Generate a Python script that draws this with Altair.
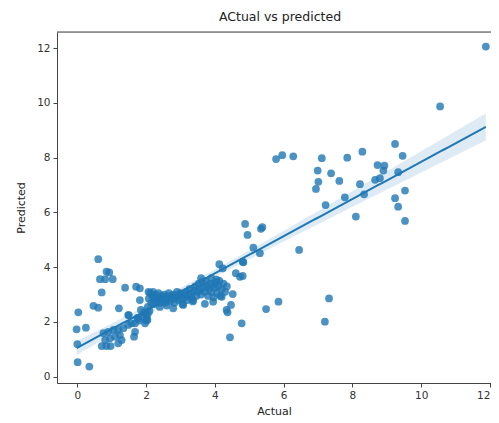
import altair as alt
import numpy as np
import pandas as pd

# ---- data ----
actual = [
    # low region (0 - 2)
    0.61, 0.85, 0.93, 0.66, 0.81, 1.03, 0.71, 1.39, 1.71, 1.82,
    0.47, 0.61, 1.21, 0.03, -0.02, 0.25, 0.00, 0.01, 0.35,
    0.71, 0.85, 0.97, 0.81, 0.95, 1.10, 1.24, 1.29, 1.19, 0.76,
    0.90, 1.05, 1.19, 1.34, 1.48, 1.58, 1.68, 1.65, 1.48, 1.68,
    1.85, 1.82, 1.97, 2.04, 1.77, 1.90, 1.95, 2.00, 2.02, 2.05,
    1.80, 1.75, 1.97, 2.10, 1.50, 2.07,
    # dense band (2 - 4.4)
    2.05, 2.08, 2.12, 2.15, 2.18, 2.20, 2.22, 2.25, 2.28, 2.30,
    2.33, 2.36, 2.40, 2.43, 2.46, 2.50, 2.53, 2.56, 2.60, 2.63,
    2.66, 2.70, 2.73, 2.76, 2.80, 2.83, 2.86, 2.90, 2.93, 2.96,
    3.00, 3.03, 3.06, 3.10, 3.13, 3.16, 3.20, 3.23, 3.26, 3.30,
    3.33, 3.36, 3.40, 3.43, 3.46, 3.50, 3.53, 3.56, 3.60, 3.63,
    3.66, 3.70, 3.73, 3.76, 3.80, 3.83, 3.86, 3.90, 3.93, 3.96,
    4.00, 4.03, 4.06, 4.10, 4.13, 4.16, 4.20, 4.25, 4.30, 4.35,
    2.79, 3.08, 3.37, 3.71, 3.95, 4.20, 2.40, 2.60, 3.60, 3.90, 4.05,
    # 4 - 6
    4.13, 4.23, 4.61, 4.73, 4.81, 4.52, 4.34, 4.37, 4.47, 4.78,
    4.44, 4.88, 4.95, 5.34, 5.12, 5.31, 4.81, 5.38, 5.49, 5.85,
    4.83, 5.78, 5.96, 6.28,
    # 6 - 12
    6.45, 7.11, 7.85, 8.29, 9.24, 9.46, 6.99, 7.38, 7.01, 6.94,
    7.62, 8.73, 8.93, 8.90, 8.66, 8.80, 8.22, 9.33, 9.53, 7.78,
    8.34, 7.22, 8.10, 9.24, 9.33, 9.53, 7.32, 7.20, 10.55, 11.88,
]
predicted = [
    4.29, 3.84, 3.81, 3.56, 3.56, 3.56, 3.08, 3.25, 3.29, 3.23,
    2.59, 2.52, 2.50, 2.35, 1.73, 1.79, 1.19, 0.53, 0.37,
    1.12, 1.12, 1.12, 1.34, 1.40, 1.46, 1.52, 1.34, 1.22, 1.59,
    1.64, 1.71, 1.71, 1.77, 1.89, 1.95, 1.64, 1.46, 2.25, 1.95,
    2.44, 2.80, 2.32, 2.07, 2.13, 2.20, 2.35, 2.05, 2.15, 2.30,
    2.05, 2.15, 1.95, 2.40, 2.25, 3.10,
    2.55, 2.85, 3.05, 2.70, 2.95, 3.10, 2.65, 2.85, 3.00, 2.75,
    2.90, 3.05, 2.70, 2.85, 2.95, 2.80, 3.00, 2.70, 2.90, 2.80,
    3.05, 2.75, 2.95, 2.85, 3.00, 2.70, 2.90, 3.10, 2.80, 2.95,
    3.05, 2.85, 2.65, 3.00, 2.90, 3.10, 2.80, 3.00, 3.20, 2.90,
    3.05, 2.75, 3.15, 3.30, 2.95, 3.10, 3.40, 3.20, 3.00, 3.45,
    3.25, 3.10, 3.50, 3.30, 2.95, 3.20, 3.40, 3.10, 3.35, 2.90,
    3.25, 3.45, 3.05, 3.30, 3.50, 2.95, 3.20, 3.40, 3.10, 3.30,
    2.50, 2.62, 2.80, 2.66, 2.74, 2.92, 2.55, 2.60, 3.60, 3.60, 3.55,
    4.11, 3.96, 3.78, 3.65, 3.68, 3.02, 2.44, 2.35, 2.62, 1.95,
    1.44, 5.58, 5.18, 5.40, 4.71, 4.51, 4.20, 5.46, 2.47, 2.74,
    4.18, 7.95, 8.09, 8.05,
    4.63, 7.98, 8.00, 8.22, 8.50, 8.07, 7.53, 7.43, 7.12, 6.86,
    7.15, 7.73, 7.71, 7.53, 7.19, 7.25, 7.03, 7.47, 6.80, 6.55,
    6.66, 6.27, 5.85, 6.52, 6.21, 5.69, 2.86, 2.01, 9.87, 12.06,
]
x_ticks = [0, 2, 4, 6, 8, 10, 12]
y_ticks = [0, 2, 4, 6, 8, 10, 12]

pts = pd.DataFrame({"Actual": actual, "Predicted": predicted})

# ---- linear fit with 95% confidence band (as seaborn regplot) ----
xa = np.array(actual)
ya = np.array(predicted)
n = len(xa)
slope, intercept = np.polyfit(xa, ya, 1)
resid = ya - (intercept + slope * xa)
s = np.sqrt(np.sum(resid ** 2) / (n - 2))
xbar = xa.mean()
sxx = np.sum((xa - xbar) ** 2)
xs = np.linspace(xa.min(), xa.max(), 100)
yfit = intercept + slope * xs
se = s * np.sqrt(1.0 / n + (xs - xbar) ** 2 / sxx)
fit = pd.DataFrame({"x": xs, "y": yfit, "lo": yfit - 1.97 * se, "hi": yfit + 1.97 * se})

blue = "#1f77b4"
xscale = alt.Scale(domain=[-0.59, 12.03], nice=False, zero=False)
yscale = alt.Scale(domain=[-0.23, 12.59], nice=False, zero=False)

axis_common = dict(
    labelFont="DejaVu Sans", labelFontSize=10.5, labelColor="#333333",
    titleFont="DejaVu Sans", titleFontSize=11, titleFontWeight="normal", titleColor="#222222",
    domainColor="#444444", tickColor="#444444", tickSize=4, grid=False, labelPadding=3,
)

xaxis = alt.Axis(values=x_ticks, title="Actual", titlePadding=5, labelFlush=3, **axis_common)
yaxis = alt.Axis(values=y_ticks, title="Predicted", titlePadding=10, **axis_common)

points = alt.Chart(pts).mark_circle(size=60, opacity=0.8, color=blue).encode(
    x=alt.X("Actual:Q", scale=xscale, axis=xaxis),
    y=alt.Y("Predicted:Q", scale=yscale, axis=yaxis),
)

band = alt.Chart(fit).mark_area(color=blue, opacity=0.15).encode(
    x=alt.X("x:Q", scale=xscale),
    y=alt.Y("lo:Q", scale=yscale),
    y2="hi:Q",
)

line = alt.Chart(fit).mark_line(color=blue, strokeWidth=2).encode(
    x=alt.X("x:Q", scale=xscale),
    y=alt.Y("y:Q", scale=yscale),
)

# top spine
top = alt.Chart(pd.DataFrame({"v": [0]})).mark_rule(color="#444444", strokeWidth=1).encode(
    x=alt.value(0), x2=alt.value(434), y=alt.value(0)
)

chart = alt.layer(points, band, line, top).properties(
    width=434,
    height=351,
    title=alt.TitleParams(
        "ACtual vs predicted", font="DejaVu Sans", fontSize=12.5, fontWeight="normal",
        color="#222222", anchor="middle", dx=6, offset=8,
    ),
    autosize=alt.AutoSizeParams(type="none"),
    padding={"left": 49, "top": 24, "right": 0, "bottom": 34},
).configure_view(stroke=None).configure(background="white")

chart.save("out.html", embed_options={"renderer": "svg", "actions": False})
